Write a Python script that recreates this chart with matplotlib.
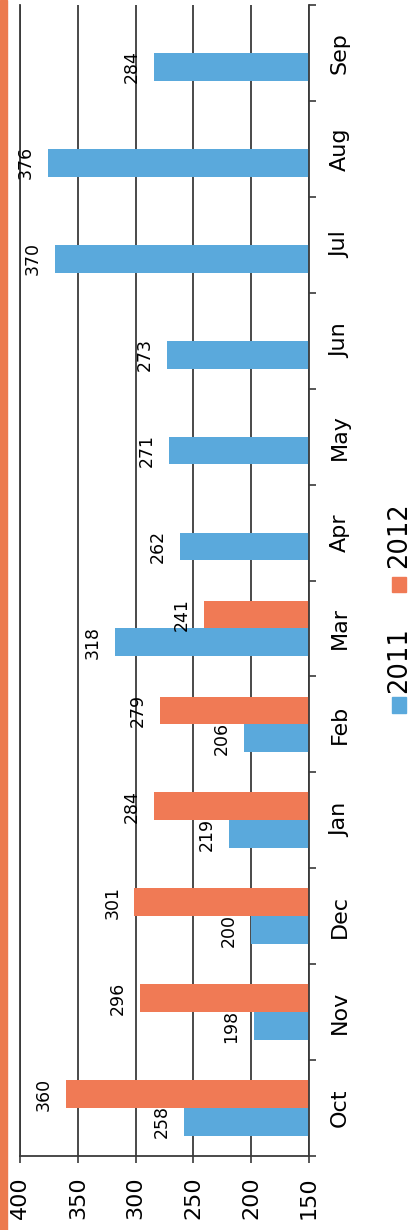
import matplotlib
matplotlib.use("Agg")
import matplotlib.pyplot as plt
import numpy as np
from matplotlib.patches import Rectangle

MONTHS = ["Oct", "Nov", "Dec", "Jan", "Feb", "Mar",
          "Apr", "May", "Jun", "Jul", "Aug", "Sep"]
SALES_2011 = [258, 198, 200, 219, 206, 318, 262, 271, 273, 370, 376, 284]
SALES_2012 = [360, 296, 301, 284, 279, 241]
VALUE_TICKS = [150, 200, 250, 300, 350, 400]
BASE = 150

BLUE = "#5AA9DC"
ORANGE = "#F07A55"
STRIPE = "#EC7A4E"
GRID = "#3a3a3a"

plt.rcParams["font.family"] = ["DejaVu Sans"]

fig = plt.figure(figsize=(4.15, 12.3), dpi=100)
fig.patch.set_facecolor("white")
ax = fig.add_axes([20 / 415, 74 / 1230, 289 / 415, 1151 / 1230])

pos = np.arange(len(MONTHS))
h = 0.29
v11 = np.array(SALES_2011)
v12 = np.array(SALES_2012)
p12 = pos[:len(v12)]

ax.barh(pos - h / 2, v11 - BASE, left=BASE, height=h, color=BLUE, zorder=2)
ax.barh(p12 + h / 2, v12 - BASE, left=BASE, height=h, color=ORANGE, zorder=2)

# data labels just past the bar ends
for y, v in zip(pos - h / 2, v11):
    ax.annotate(str(v), xy=(v, y), xytext=(-16, 0), textcoords="offset points",
                rotation=90, ha="center", va="center", fontsize=12.5,
                zorder=3)
for y, v in zip(p12 + h / 2, v12):
    ax.annotate(str(v), xy=(v, y), xytext=(-16, 0), textcoords="offset points",
                rotation=90, ha="center", va="center", fontsize=12.5,
                zorder=3)

ax.set_xlim(400, 150)
ax.set_ylim(-0.5, len(MONTHS) - 0.5)

# value axis (now at the bottom)
ax.set_xticks(VALUE_TICKS)
ax.set_xticklabels([str(t) for t in VALUE_TICKS], rotation=90,
                   fontsize=16, va="top", ha="center")
ax.tick_params(axis="x", direction="out", length=5, width=1.2,
               color=GRID, pad=10)
ax.xaxis.grid(True, color=GRID, lw=1.3)
ax.set_axisbelow(True)

# category axis (now on the right)
ax.yaxis.tick_right()
ax.set_yticks(pos)
ax.set_yticklabels(MONTHS, rotation=90, fontsize=16, va="center", ha="left")
ax.set_yticks(np.arange(-0.5, len(MONTHS)), minor=True)
ax.tick_params(axis="y", which="major", length=0, pad=15)
ax.tick_params(axis="y", which="minor", direction="out", length=5,
               width=1.2, color=GRID)

ax.spines["top"].set_visible(False)
for side in ["bottom", "right", "left"]:
    ax.spines[side].set_color(GRID)
    ax.spines[side].set_linewidth(1.3)

# legend, rotated like the rest of the chart
fig.patches.append(Rectangle((392 / 415, 1 - 713 / 1230), 14 / 415, 16 / 1230,
                             transform=fig.transFigure, color=BLUE))
fig.patches.append(Rectangle((392 / 415, 1 - 592 / 1230), 14 / 415, 15 / 1230,
                             transform=fig.transFigure, color=ORANGE))
fig.text(399 / 415, 1 - 660 / 1230, "2011", rotation=90, fontsize=18.5,
         ha="center", va="center")
fig.text(399 / 415, 1 - 535 / 1230, "2012", rotation=90, fontsize=18.5,
         ha="center", va="center")

# orange stripe on the left edge
fig.patches.append(Rectangle((0, 0), 7 / 415, 1, transform=fig.transFigure,
                             color=STRIPE))

fig.savefig("out.png", dpi=100, facecolor="white")
